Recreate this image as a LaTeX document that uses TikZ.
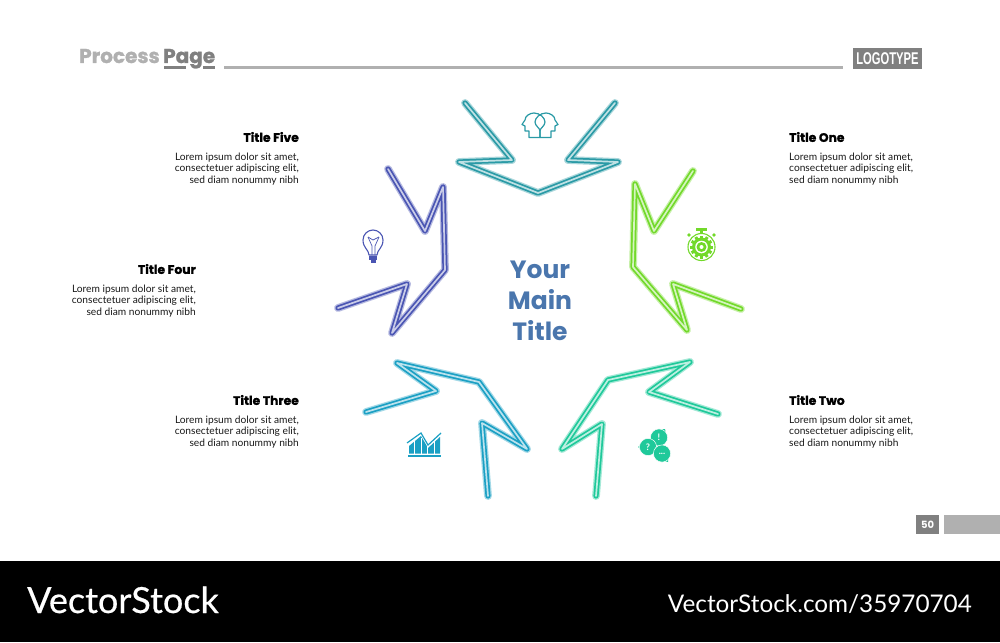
\documentclass[tikz,border=0pt]{standalone}
\usepackage{fontspec}
\setmainfont{Lato}
\newfontfamily\headfont[BoldFeatures={FakeBold=1.2}]{Poppins}
\newfontfamily\plainhead{Poppins}
\newfontfamily\logofont[FakeStretch=0.66]{Liberation Sans}
\newfontfamily\brandfont[FakeBold=0.5]{Lato}
\usepackage{xcolor}
\usepackage{tikz}
\usetikzlibrary{positioning}

\definecolor{tealline}{HTML}{2A9AA6}
\definecolor{limeline}{HTML}{72D92A}
\definecolor{seaLine}{HTML}{1FC99A}
\definecolor{blueline}{HTML}{1BA0C4}
\definecolor{purpleline}{HTML}{4A55B3}
\definecolor{midgray}{HTML}{808080}
\definecolor{lightgray}{HTML}{B0B0B0}
\definecolor{maintitle}{HTML}{4A76AD}
\newcommand{\threedots}{...}

\tikzset{
  neon/.style={line join=round, line cap=round, draw=#1, line width=5.2pt,
    preaction={draw=#1!40, line join=round, line cap=round, line width=7.8pt},
    postaction={draw=#1!30, line join=round, line cap=round, line width=1.7pt}},
  titlelabel/.style={font=\headfont\bfseries\fontsize{12.3}{14}\selectfont, inner sep=0pt, text=black},
  bodylabel/.style={font=\fontsize{10.2}{11.5}\selectfont, inner sep=0pt, text=black!90},
}

\begin{document}
\begin{tikzpicture}[x=1pt, y=-1pt]
\useasboundingbox (0,0) rectangle (1000,642);
\fill[white] (0,0) rectangle (1000,642);

% Header
\node[font=\headfont\bfseries\fontsize{20}{24}\selectfont, text=lightgray, anchor=base west, inner sep=0pt] (process) at (79,63) {Process};
\node[font=\headfont\bfseries\fontsize{20}{24}\selectfont, text=midgray, anchor=base west, inner sep=0pt] (page) at (163,63) {Page};
\fill[midgray] (164,66) rectangle (186,68.5);
\fill[midgray] (203,66) rectangle (215,68.5);
\fill[lightgray] (224,66) rectangle (843,68.5);
\node[fill=midgray, text=white, font=\logofont\bfseries\fontsize{17}{20}\selectfont, minimum width=69pt, minimum height=21pt, inner sep=0pt] (logo) at (887.5,58.5) {LOGOTYPE};

% Arrows
\draw[neon=tealline] (465,103) -- (512,160) -- (459,162) -- (538,193) -- (618,162) -- (568,160) -- (615,103);
\draw[neon=limeline] (693,171) -- (654,231) -- (635,184) -- (633,267) -- (687,330) -- (673,284) -- (741,309);
\draw[neon=seaLine] (718,414) -- (649,392) -- (690,362) -- (608,380) -- (562,449) -- (602,424) -- (596,496);
\draw[neon=blueline] (366,412) -- (436,391) -- (397,363) -- (479,382) -- (527,449) -- (482,423) -- (488,496);
\draw[neon=purpleline] (388,169) -- (425,231) -- (443,187) -- (445,270) -- (392,333) -- (407,284) -- (338,308);

% Heads
\foreach \s in {1,-1} {
\begin{scope}[xshift=540pt, xscale=\s]
\draw[tealline, line width=1.2pt, line join=round] (0,137.5) -- (-11,137.5) -- (-11,131) -- (-15,131) -- (-15,126) -- (-18,124.5)
  -- (-15,120) .. controls (-15,116) and (-10,113) .. (-6,113) .. controls (0,113) and (5,118) .. (5,122) .. controls (5,126) and (0,128) .. (0,131) -- cycle;
\end{scope}
}

% Stopwatch
\draw[limeline, line width=1.1pt] (701.5,247) circle (13.5);
\fill[limeline] (696,228) rectangle (707,231);
\fill[limeline] (700,231) rectangle (703,234);
\foreach \x/\y in {689/235, 714/235} {
    \fill[limeline] (\x,\y) circle (1.8);
}
\foreach \a in {0,30,...,330} {
    \fill[limeline, rotate around={\a:(701.5,247)}] (700,235.5) rectangle (703,239);
}
\fill[limeline] (701.5,247) circle (9.5);
\fill[white] (701.5,247) circle (6.3);
\fill[limeline] (701.5,247) circle (5);
\fill[white] (701.5,247) circle (2);

% Speech bubbles
\fill[seaLine] (657,430) -- (665,429) -- (667,439) -- cycle;
\fill[seaLine] (646,441) -- (638,447) -- (646,453) -- cycle;
\fill[seaLine] (657,459) -- (668,462) -- (669,452) -- cycle;
\foreach \x/\y/\t in {659/437.5/!, 648/447/?, 662/453.5/\threedots} {
    \fill[seaLine, draw=white, line width=0.5pt] (\x,\y) circle (8.6);
    \node[text=white, font=\bfseries\fontsize{9}{9}\selectfont, inner sep=0pt] at (\x,\y) {\t};
}

% Chart
\fill[blueline] (409,453.5) -- (409,446) -- (421,436) -- (428,448) -- (440,437) -- (440,453.5) -- cycle;
\foreach \x in {414,421,427,434} {
    \fill[white] (\x-0.5,438) rectangle (\x+0.5,453.5);
}
\draw[blueline, line width=1.2pt] (407,443) -- (421,433) -- (428,445) -- (441,433);
\draw[blueline, line width=1.2pt] (408,456) -- (441,456);

% Bulb
\draw[purpleline, line width=1.1pt, line join=round] (369,255) .. controls (369,250) and (363,248) .. (363,240)
  .. controls (363,234) and (368,230) .. (373,230) .. controls (378,230) and (383,234) .. (383,240)
  .. controls (383,248) and (377,250) .. (377,255) -- cycle;
\draw[purpleline, line width=0.7pt] (368,237) -- (372,246) -- (372,255);
\draw[purpleline, line width=0.7pt] (379,237) -- (375,246) -- (375,255);
\draw[purpleline, line width=0.7pt] (368,237) -- (373,240) -- (379,237);
\fill[purpleline] (369,256) rectangle (377,260);
\fill[purpleline] (370.5,260) rectangle (375.5,262.5);

% Main title
\node[font=\plainhead\bfseries\fontsize{25}{31}\selectfont, text=maintitle, align=center, inner sep=0pt] (main) at (540,300.5) {Your\\Main\\Title};

% Right labels
\foreach \n/\t/\y in {one/Title One/137, two/Title Two/400} {
    \node[titlelabel, anchor=west] (title-\n) at (789,\y) {\t};
    \node[bodylabel, align=left, below=10.5pt of title-\n.south west, anchor=north west] (body-\n) {Lorem ipsum dolor sit amet,\\consectetuer adipiscing elit,\\sed diam nonummy nibh};
}
% Left labels
\foreach \n/\t/\x/\y in {five/Title Five/299/137, four/Title Four/196/269, three/Title Three/299/400} {
    \node[titlelabel, anchor=east] (title-\n) at (\x,\y) {\t};
    \node[bodylabel, align=right, below=10.5pt of title-\n.south east, anchor=north east] (body-\n) {Lorem ipsum dolor sit amet,\\consectetuer adipiscing elit,\\sed diam nonummy nibh};
}

% Footer
\node[fill=midgray, text=white, font=\plainhead\bfseries\fontsize{10}{12}\selectfont, minimum width=23pt, minimum height=19pt, inner sep=0pt] (pagenum) at (927.5,524.5) {50};
\fill[lightgray] (944,515) rectangle (1000,534);
\fill[black] (0,561) rectangle (1000,642);
\node[text=white, font=\brandfont\fontsize{36}{40}\selectfont, anchor=base west, inner sep=0pt] (brand) at (27,613) {VectorStock};
\node[text=white, font=\fontsize{24.3}{28}\selectfont, anchor=base east, inner sep=0pt] (url) at (972,612) {VectorStock.com/35970704};
\end{tikzpicture}
\end{document}
